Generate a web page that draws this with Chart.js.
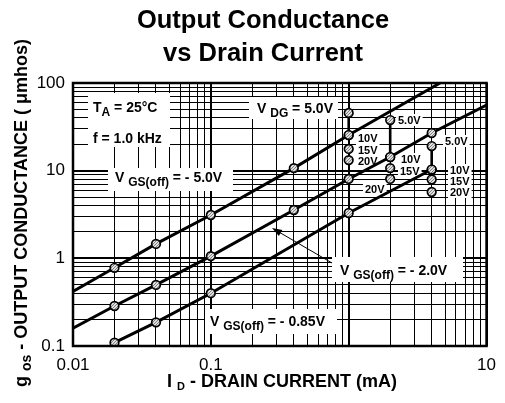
<!DOCTYPE html>
<html>
<head>
<meta charset="utf-8">
<title>Output Conductance vs Drain Current</title>
<script src="https://cdn.jsdelivr.net/npm/chart.js@4.4.0/dist/chart.umd.min.js"></script>
<style>
  html, body { margin: 0; padding: 0; background: #fff; }
  #chart { display: block; }
</style>
</head>
<body>
<canvas id="chart" width="505" height="403"></canvas>
<script>
// values (x: ID in mA, y: gos in umhos)
const X_LABEL_VALUES = [0.01, 0.1, 10];
const X_LABELS = ['0.01', '0.1', '10'];
const Y_LABEL_VALUES = [0.1, 1, 10, 100];
const Y_LABELS = ['0.1', '1', '10', '100'];

// VGS(off) = -5.0V
const VGS5_PTS_X = [0.02, 0.04, 0.1, 0.4, 1];
const VGS5_PTS_Y = [0.78, 1.46, 3.12, 10.7, 25.5];
const VGS5_ENDS_X = [0.01, 4.6];
const VGS5_ENDS_Y = [0.42, 100];

// VGS(off) = -2.0V
const VGS2_PTS_X = [0.02, 0.04, 0.1, 0.4, 1, 2, 4];
const VGS2_PTS_Y = [0.286, 0.497, 1.06, 3.56, 8.04, 14.3, 26.9];
const VGS2_ENDS_X = [0.01, 10];
const VGS2_ENDS_Y = [0.16, 56];

// VGS(off) = -0.85V (line stops at the circles)
const VGS085_PTS_X = [0.02, 0.04, 0.1, 1, 4];
const VGS085_PTS_Y = [0.109, 0.186, 0.40, 3.29, 10.3];

// VDG steps measured at three currents
const VDG_STEPS = ['5.0V', '10V', '15V', '20V'];
const VDG_GROUP_X = [1, 2, 4];
const VDG_GROUP_Y = [
  [45.5, 25.5, 17.7, 13.2],
  [37.8, 14.3, 10.7, 8.04],
  [19.1, 10.3, 7.93, 5.71]
];

const FONT = '"Liberation Sans", Arial, Helvetica, sans-serif';

// where the little VDG labels sit (left x, baseline), null = no label
const STEP_LABEL_POS = [
  [null, [358, 142], [358, 154], [358, 165]],
  [[398, 124], [401, 163], [400, 175], [365, 193]],
  [[445, 145], [450, 174], [450, 185], [450, 196]]
];

function pts(xs, ys) { return xs.map((x, i) => ({ x: x, y: ys[i] })); }

function gridValues(decades) {
  const out = [];
  for (let i = 0; i < decades.length - 1; i++) {
    for (let m = 1; m < 10; m++) out.push(+(decades[i] * m).toPrecision(6));
  }
  out.push(decades[decades.length - 1]);
  return out;
}
const isDecade = v => Math.abs(Math.log10(v) - Math.round(Math.log10(v))) < 1e-6;
function labelFor(v, vals, labels) {
  const i = vals.findIndex(t => Math.abs(Math.log10(t) - Math.log10(v)) < 1e-6);
  return i < 0 ? '' : labels[i];
}

const canvas = document.getElementById('chart');
const ctx0 = canvas.getContext('2d');

function dotPattern() {
  const c = document.createElement('canvas');
  c.width = 3; c.height = 3;
  const g = c.getContext('2d');
  g.fillStyle = '#e0e0e0';
  g.fillRect(0, 0, 3, 3);
  g.fillStyle = '#808080';
  g.fillRect(0, 0, 1, 1);
  g.fillRect(2, 1, 1, 1);
  g.fillRect(1, 2, 1, 1);
  return ctx0.createPattern(c, 'repeat');
}

const circles = []
  .concat(pts(VGS5_PTS_X, VGS5_PTS_Y))
  .concat(pts(VGS2_PTS_X, VGS2_PTS_Y))
  .concat(pts(VGS085_PTS_X, VGS085_PTS_Y));
VDG_GROUP_X.forEach((x, g) => VDG_GROUP_Y[g].forEach(y => circles.push({ x: x, y: y })));

const lineStyle = { showLine: true, borderColor: '#000', borderWidth: 3, pointRadius: 0, fill: false, order: 2 };

const datasets = [
  {
    label: 'points', data: circles, showLine: false, order: 0,
    pointRadius: 4.3, pointBorderWidth: 1.7, pointBorderColor: '#000',
    pointBackgroundColor: dotPattern()
  },
  Object.assign({ label: 'VGS(off) = -5.0V', data: [{ x: VGS5_ENDS_X[0], y: VGS5_ENDS_Y[0] }].concat(pts(VGS5_PTS_X, VGS5_PTS_Y), [{ x: VGS5_ENDS_X[1], y: VGS5_ENDS_Y[1] }]) }, lineStyle),
  Object.assign({ label: 'VGS(off) = -2.0V', data: [{ x: VGS2_ENDS_X[0], y: VGS2_ENDS_Y[0] }].concat(pts(VGS2_PTS_X, VGS2_PTS_Y), [{ x: VGS2_ENDS_X[1], y: VGS2_ENDS_Y[1] }]) }, lineStyle),
  Object.assign({ label: 'VGS(off) = -0.85V', data: pts(VGS085_PTS_X, VGS085_PTS_Y) }, lineStyle)
];
// vertical ties from 5.0V to 10V in each group
VDG_GROUP_X.forEach((x, g) => {
  datasets.push(Object.assign({}, lineStyle, {
    label: 'VDG ' + g, borderWidth: 2.6, order: 1,
    data: [{ x: x, y: VDG_GROUP_Y[g][0] }, { x: x, y: VDG_GROUP_Y[g][1] }]
  }));
});

// text with subscripts: parts = [text, isSub]
function rich(ctx, parts, x, base, size, subSize, drop, measureOnly) {
  let cx = x;
  parts.forEach(p => {
    ctx.font = 'bold ' + (p[1] ? subSize : size) + 'px ' + FONT;
    if (!measureOnly) ctx.fillText(p[0], cx, base + (p[1] ? drop : 0));
    cx += ctx.measureText(p[0]).width;
  });
  return cx - x;
}

const BOXES = [[88, 93, 82, 54], [249, 97, 89, 22], [108, 168, 125, 23], [332, 257, 131, 25], [205, 309, 132, 25]];
const NOTES = [
  { parts: [['T', 0], ['A', 1], [' = 25°C', 0]], x: 93, y: 112 },
  { parts: [['f = 1.0 kHz', 0]], x: 93, y: 143 },
  { parts: [['V ', 0], ['DG', 1], [' = 5.0V', 0]], x: 257, y: 113 },
  { parts: [['V ', 0], ['GS(off)', 1], [' = - 5.0V', 0]], x: 115, y: 182 },
  { parts: [['V ', 0], ['GS(off)', 1], [' = - 2.0V', 0]], x: 340, y: 275 },
  { parts: [['V ', 0], ['GS(off)', 1], [' = - 0.85V', 0]], x: 210, y: 326 }
];

const decor = {
  id: 'decor',
  beforeDatasetsDraw(chart) {
    const ctx = chart.ctx;
    ctx.save();
    ctx.fillStyle = '#fff';
    BOXES.forEach(b => ctx.fillRect(b[0], b[1], b[2], b[3]));
    ctx.fillStyle = '#000';
    ctx.textBaseline = 'alphabetic';
    ctx.textAlign = 'left';
    NOTES.forEach(n => rich(ctx, n.parts, n.x, n.y, 14, 12, 4));

    // small VDG labels
    ctx.font = 'bold 11px ' + FONT;
    STEP_LABEL_POS.forEach(row => row.forEach((p, k) => {
      if (!p) return;
      const w = ctx.measureText(VDG_STEPS[k]).width;
      ctx.fillStyle = '#fff';
      ctx.fillRect(p[0] - 2, p[1] - 10, w + 4, 12);
      ctx.fillStyle = '#000';
      ctx.fillText(VDG_STEPS[k], p[0], p[1]);
    }));

    // arrow to the -2.0V line
    const x0 = 332, y0 = 263, x1 = 272, y1 = 228;
    const a = Math.atan2(y1 - y0, x1 - x0);
    ctx.strokeStyle = '#000';
    ctx.lineWidth = 1;
    ctx.beginPath();
    ctx.moveTo(x0, y0);
    ctx.lineTo(x1 - 6 * Math.cos(a), y1 - 6 * Math.sin(a));
    ctx.stroke();
    ctx.beginPath();
    ctx.moveTo(x1, y1);
    ctx.lineTo(x1 - 10 * Math.cos(a) + 3.5 * Math.sin(a), y1 - 10 * Math.sin(a) - 3.5 * Math.cos(a));
    ctx.lineTo(x1 - 10 * Math.cos(a) - 3.5 * Math.sin(a), y1 - 10 * Math.sin(a) + 3.5 * Math.cos(a));
    ctx.closePath();
    ctx.fill();
    ctx.restore();
  },
  afterDraw(chart) {
    const ctx = chart.ctx;
    const area = chart.chartArea;
    ctx.save();
    ctx.strokeStyle = '#000';
    ctx.lineWidth = 2.5;
    ctx.strokeRect(area.left, area.top, area.right - area.left, area.bottom - area.top);

    ctx.fillStyle = '#000';
    ctx.textAlign = 'center';
    ctx.textBaseline = 'alphabetic';
    ctx.font = 'bold 25.5px ' + FONT;
    ctx.fillText('Output Conductance', 263, 28);
    ctx.fillText('vs Drain Current', 263, 61);

    ctx.textAlign = 'left';
    const xt = [['I ', 0], ['D', 1], [' - DRAIN CURRENT (mA)', 0]];
    const xw = rich(ctx, xt, 0, 0, 18, 11, 3, true);
    rich(ctx, xt, 282 - xw / 2, 387, 18, 11, 3);

    const yt = [['g ', 0], ['os', 1], [' - OUTPUT CONDUCTANCE ( μmhos)', 0]];
    const yw = rich(ctx, yt, 0, 0, 18, 14, 4, true);
    ctx.translate(27, 213);
    ctx.rotate(-Math.PI / 2);
    rich(ctx, yt, -yw / 2, 0, 18, 14, 4);
    ctx.restore();
  }
};

const gridOpts = {
  color: '#000',
  lineWidth: c => (c.tick && isDecade(c.tick.value) ? 2 : 1),
  drawTicks: false
};

new Chart(canvas, {
  type: 'scatter',
  data: { datasets: datasets },
  options: {
    responsive: false,
    animation: false,
    layout: { padding: { top: 83, right: 15, left: 0, bottom: 0 } },
    plugins: { legend: { display: false }, title: { display: false }, tooltip: { enabled: false } },
    scales: {
      x: {
        type: 'logarithmic', min: 0.01, max: 10,
        afterBuildTicks: s => { s.ticks = gridValues([0.01, 0.1, 1, 10]).map(v => ({ value: v, major: isDecade(v) })); },
        afterFit: s => { s.height = 57; },
        grid: gridOpts,
        border: { display: false },
        ticks: {
          autoSkip: false, maxRotation: 0, minRotation: 0, padding: 9, color: '#000',
          font: { family: FONT, size: 17 },
          callback: v => labelFor(v, X_LABEL_VALUES, X_LABELS)
        }
      },
      y: {
        type: 'logarithmic', min: 0.1, max: 100,
        afterBuildTicks: s => { s.ticks = gridValues([0.1, 1, 10, 100]).map(v => ({ value: v, major: isDecade(v) })); },
        afterFit: s => { s.width = 73; },
        grid: gridOpts,
        border: { display: false },
        ticks: {
          autoSkip: false, padding: 8, color: '#000',
          font: { family: FONT, size: 17 },
          callback: v => labelFor(v, Y_LABEL_VALUES, Y_LABELS)
        }
      }
    }
  },
  plugins: [decor]
});
</script>
</body>
</html>
